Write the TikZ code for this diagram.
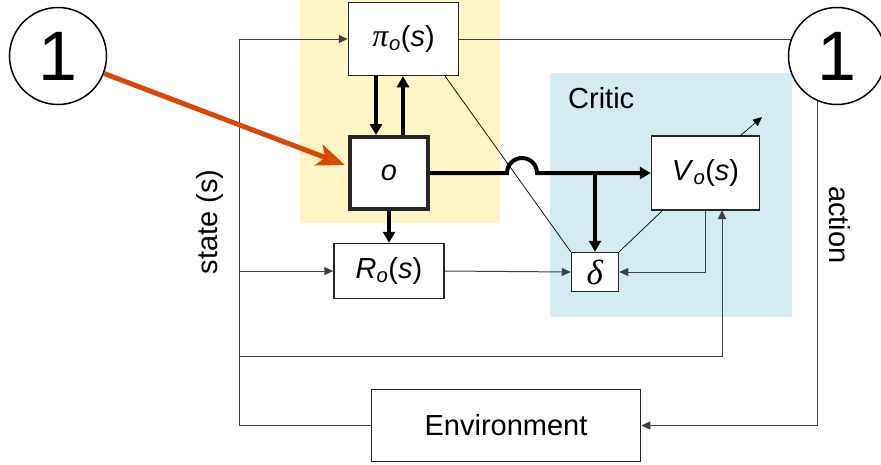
\documentclass[tikz,border=0pt]{standalone}
\usepackage{fontspec}
\setmainfont{Liberation Sans}
\newfontfamily\greekserif{Liberation Serif}
\usetikzlibrary{arrows.meta,calc}

\definecolor{actorbg}{RGB}{255,245,197}
\definecolor{criticbg}{RGB}{212,236,241}
\definecolor{pointer}{RGB}{214,74,5}

% italic subscript used in the function labels
\newcommand\lowsub[1]{\textsubscript{\textit{#1}}}

\begin{document}
\begin{tikzpicture}[x=1pt,y=-1pt,
  lbl/.style={font=\fontsize{29}{32}\selectfont},
  blk/.style={draw=black!85, line width=1.5pt, fill=white, inner sep=0pt, lbl},
  wire/.style={draw=black!75, line width=1pt},
  wirearr/.style={wire, -{Triangle[length=9pt,width=8pt]}},
  diag/.style={draw=black, line width=0.7pt},
  heavy/.style={draw=black, line width=4pt},
  heavyarr/.style={heavy, -{Triangle[length=11pt,width=12pt]}},
  marker/.style={circle, draw=black, line width=1.5pt, fill=white, inner sep=0pt,
                 minimum size=97pt, font=\fontsize{70}{74}\selectfont},
]
\useasboundingbox (0,0) rectangle (881,464);

% actor and critic areas
\fill[actorbg] (300,0) rectangle (500,223);
\fill[criticbg] (550,73) rectangle (792,317);

% blocks
\node[blk, minimum width=110pt, minimum height=73pt] (pi) at (403.5,39)
  {{\greekserif\fontsize{32}{34}\selectfont\textit{π}}\lowsub{o}(\textit{s})};
\node[blk, line width=4pt, minimum width=78pt, minimum height=72pt] (o) at (389,173) {\textit{o}};
\node[blk, minimum width=110pt, minimum height=55pt] (R) at (389,271)
  {\textit{R}\lowsub{o}(\textit{s})};
\node[blk, minimum width=47pt, minimum height=39pt] (delta) at (595,272)
  {{\greekserif\fontsize{35}{38}\selectfont\textit{δ}}};
\node[blk, minimum width=108pt, minimum height=74pt] (V) at (705.5,173)
  {\textit{V}\lowsub{o}(\textit{s})};
\node[blk, minimum width=269pt, minimum height=72pt] (env) at (506,425.5) {Environment};

% labels
\node[lbl, rotate=90] (state) at (210,222) {state (s)};
\node[lbl, rotate=-90] (act) at (840,225) {action};
\node[lbl, anchor=west, inner sep=0pt] (critic) at (568,98) {Critic};

% state distribution
\coordinate (sTop) at (239,39);
\coordinate (sR) at (239,271);
\coordinate (sV) at (239,356);
\coordinate (vIn) at (722,210);
\draw[wirearr] (env.west) -| (sTop) -- (pi.west);
\draw[wirearr] (sR) -- (R.west);
\draw[wirearr] (sV) -| (vIn);

% critic wiring
\draw[wirearr] (V.south) |- (delta.east);
\draw[wirearr] (R.east) -- (delta.west);
\coordinate (piD) at (445,76);
\coordinate (vD) at (663,210);
\draw[diag] (piD) -- (delta.north west);
\draw[diag] (vD) -- (delta.north east);
\coordinate (vo1) at (740,136);
\coordinate (vo2) at (762,117);
\draw[diag, -{Triangle[length=9pt,width=8pt]}] (vo1) -- (vo2);

% action loop
\coordinate (actCorner) at (817,39);
\draw[wirearr] (pi.east) -- (actCorner) |- (env.east);

% option signals
\coordinate (oD1) at ([xshift=-13pt]o.north);
\coordinate (oD2) at ([xshift=14pt]o.north);
\draw[heavyarr] (oD1 |- pi.south) -- (oD1);
\draw[heavyarr] (oD2) -- (oD2 |- pi.south);
\draw[heavyarr] (o.south) -- (R.north);
\coordinate (hump) at (507,173);
\draw[heavyarr] (o.east) -- (hump) arc[start angle=180, end angle=0, radius=15pt] -- (V.west);
\coordinate (br) at (595,173);
\draw[heavyarr] (br) -- (delta.north);

% numbered markers
\node[marker] (c1) at (58,56) {1};
\node[marker] (c2) at (837,56) {1};
\coordinate (tgt) at (345,165);
\draw[draw=pointer, line width=5pt, -{Stealth[length=28pt,width=22pt,inset=7pt]}] (c1) -- (tgt);
\end{tikzpicture}
\end{document}
